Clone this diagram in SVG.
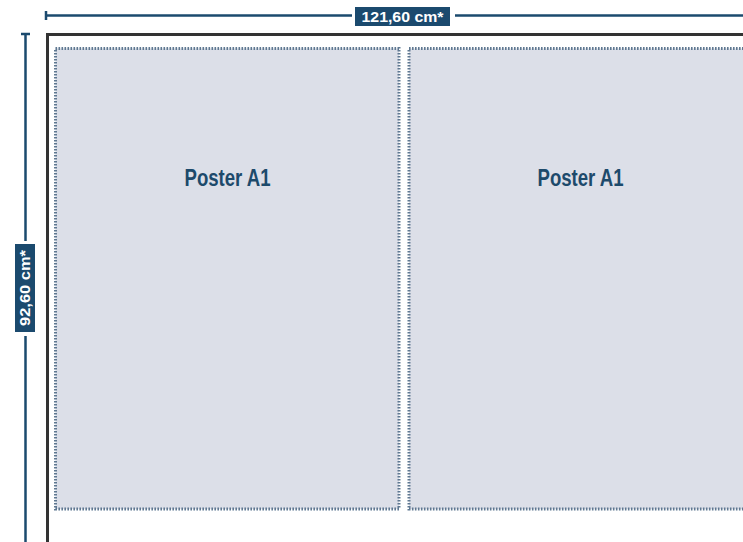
<svg xmlns="http://www.w3.org/2000/svg" width="743" height="542" viewBox="0 0 743 542">
<style>
.dim{stroke:#1b4a6e;stroke-width:2.5;fill:none}
.lbl{fill:#1b4a6e}
.lbltxt{fill:#ffffff;font-family:"Liberation Sans",Arial,sans-serif;font-weight:bold;font-size:14px}
.poster{fill:#dcdfe8;stroke:#5f7891;stroke-width:3;stroke-dasharray:1.6 1.4}
.ptxt{fill:#1d4a6b;font-family:"Liberation Sans",Arial,sans-serif;font-weight:bold;font-size:23px}
</style>
<rect width="743" height="542" fill="#ffffff"/>
<g id="frame">
<rect x="47.5" y="34.5" width="710" height="509" fill="none" stroke="#333333" stroke-width="3"/>
</g>
<g id="poster-left">
<rect x="55.5" y="48.5" width="343.5" height="460.5" class="poster"/>
<text x="227.5" y="186" text-anchor="middle" class="ptxt" textLength="86" lengthAdjust="spacingAndGlyphs">Poster A1</text>
</g>
<g id="poster-right">
<rect x="409" y="48.5" width="345" height="460.5" class="poster"/>
<text x="580.5" y="186" text-anchor="middle" class="ptxt" textLength="86" lengthAdjust="spacingAndGlyphs">Poster A1</text>
</g>
<g id="connectors">
<line x1="46" y1="15.5" x2="352" y2="15.5" class="dim"/>
<line x1="455" y1="15.5" x2="743" y2="15.5" class="dim"/>
<line x1="46" y1="11" x2="46" y2="20" class="dim"/>
<line x1="25.5" y1="34" x2="25.5" y2="241" class="dim"/>
<line x1="25.5" y1="336" x2="25.5" y2="542" class="dim"/>
<line x1="21" y1="34" x2="30" y2="34" class="dim"/>
</g>
<g id="label-width">
<rect x="355" y="7" width="95" height="19" class="lbl"/>
<text x="402.5" y="21.5" text-anchor="middle" class="lbltxt" textLength="82" lengthAdjust="spacingAndGlyphs">121,60 cm*</text>
</g>
<g id="label-height">
<rect x="15" y="244" width="20" height="88" class="lbl"/>
<text transform="translate(30,288) rotate(-90)" x="0" y="0" text-anchor="middle" class="lbltxt" textLength="76" lengthAdjust="spacingAndGlyphs">92,60 cm*</text>
</g>
</svg>
